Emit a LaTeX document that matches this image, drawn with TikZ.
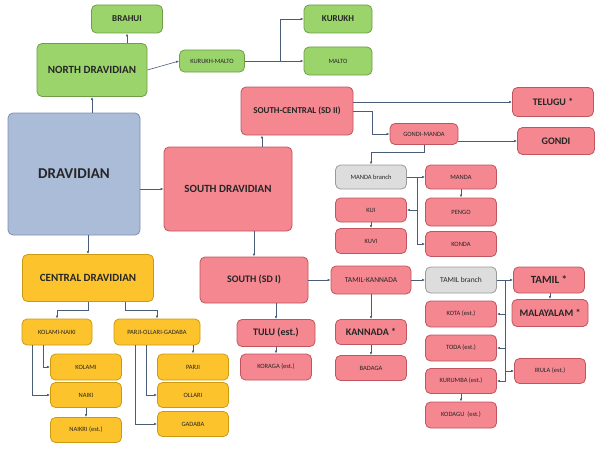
\documentclass[tikz,border=0pt]{standalone}
\usepackage{fontspec}
\setmainfont{Carlito}
\usetikzlibrary{arrows.meta}
\definecolor{gf}{HTML}{9CD46C}\definecolor{gd}{HTML}{6E9E48}
\definecolor{rf}{HTML}{F4878F}\definecolor{rd}{HTML}{C05560}
\definecolor{yf}{HTML}{FDC32C}\definecolor{yd}{HTML}{CC9A12}
\definecolor{sf}{HTML}{DDDDDD}\definecolor{sd}{HTML}{9A9A9A}
\definecolor{bf}{HTML}{AABCD8}\definecolor{bd}{HTML}{7D90B0}
\definecolor{ln}{HTML}{4A5D78}
\tikzset{
 bx/.style={draw, line width=0.8pt, rounded corners=5pt, inner sep=0pt, align=center, text=black!85},
 gr/.style={bx, fill=gf, draw=gd}, rd/.style={bx, fill=rf, draw=rd},
 yl/.style={bx, fill=yf, draw=yd}, sv/.style={bx, fill=sf, draw=sd},
 bl/.style={bx, fill=bf, draw=bd},
 sm/.style={font=\fontsize{6.5}{7}\selectfont},
 bg/.style={font=\fontsize{10}{11}\selectfont\bfseries},
 ar/.style={draw=ln, line width=0.6pt, -{Latex[length=3pt,width=2.5pt]}},
 ln/.style={draw=ln, line width=0.6pt}
}
\newcommand{\bxx}[7]{\node[#6, minimum width=#4pt, minimum height=#5pt] (#1) at (#2,#3) {#7};}
\begin{document}
\begin{tikzpicture}[x=1pt,y=-1pt]
\useasboundingbox (0,0) rectangle (602,452);
\bxx{brahui}{127}{19}{71}{28}{gr,font=\fontsize{9}{10}\selectfont\bfseries}{BRAHUI}
\bxx{north}{92}{70}{110}{53}{gr,font=\fontsize{11}{12}\selectfont\bfseries}{NORTH DRAVIDIAN}
\bxx{km}{212}{61}{65}{22}{gr,sm}{KURUKH-MALTO}
\bxx{kurukh}{338}{19}{68}{28}{gr,font=\fontsize{9}{10}\selectfont\bfseries}{KURUKH}
\bxx{malto}{338}{61}{68}{28}{gr,sm}{MALTO}
\bxx{drav}{74}{174}{132}{122}{bl,font=\fontsize{15}{16}\selectfont\bfseries}{DRAVIDIAN}
\bxx{sdrav}{228}{189}{128}{84}{rd,font=\fontsize{11}{12}\selectfont\bfseries}{SOUTH DRAVIDIAN}
\bxx{sc}{297}{111}{112}{48}{rd,font=\fontsize{9}{10}\selectfont\bfseries}{SOUTH-CENTRAL (SD II)}
\bxx{telugu}{553}{102}{81}{29}{rd,bg}{TELUGU *}
\bxx{gm}{424}{134}{68}{21}{rd,sm}{GONDI-MANDA}
\bxx{gondi}{556}{141}{77}{27}{rd,bg}{GONDI}
\bxx{mb}{371}{177}{71}{24}{sv,sm}{MANDA branch}
\bxx{manda}{461}{177}{71}{24}{rd,sm}{MANDA}
\bxx{kui}{371}{210}{71}{24}{rd,sm}{KUI}
\bxx{pengo}{461}{212}{71}{28}{rd,sm}{PENGO}
\bxx{kuvi}{371}{241}{71}{25}{rd,sm}{KUVI}
\bxx{konda}{461}{244}{71}{25}{rd,sm}{KONDA}
\bxx{tk}{371}{280}{80}{28}{rd,font=\fontsize{7.5}{8}\selectfont}{TAMIL-KANNADA}
\bxx{tb}{461}{280}{71}{26}{sv,font=\fontsize{7.5}{8}\selectfont}{TAMIL branch}
\bxx{tamil}{549}{280}{71}{26}{rd,font=\fontsize{11}{12}\selectfont\bfseries}{TAMIL *}
\bxx{mal}{550}{313}{76}{27}{rd,bg}{MALAYALAM *}
\bxx{kota}{461}{314}{71}{26}{rd,sm}{KOTA (est.)}
\bxx{toda}{461}{348}{71}{26}{rd,sm}{TODA (est.)}
\bxx{irula}{550}{371}{71}{25}{rd,sm}{IRULA (est.)}
\bxx{kurumba}{461}{381}{71}{25}{rd,sm}{KURUMBA (est.)}
\bxx{kodagu}{461}{415}{71}{26}{rd,sm}{KODAGU\ \ (est.)}
\bxx{kannada}{371}{332}{71}{25}{rd,bg}{KANNADA *}
\bxx{badaga}{371}{368}{71}{25}{rd,sm}{BADAGA}
\bxx{sd1}{254}{280}{108}{46}{rd,bg}{SOUTH (SD I)}
\bxx{tulu}{276}{333}{78}{27}{rd,bg}{TULU (est.)}
\bxx{koraga}{276}{367}{71}{26}{rd,sm}{KORAGA (est.)}
\bxx{central}{88}{278}{131}{47}{yl,font=\fontsize{11}{12}\selectfont\bfseries}{CENTRAL DRAVIDIAN}
\bxx{kn}{57}{332}{70}{26}{yl,sm}{KOLAMI-NAIKI}
\bxx{pog}{157}{332}{86}{26}{yl,sm}{PARJI-OLLARI-GADABA}
\bxx{kolami}{86}{367}{71}{26}{yl,sm}{KOLAMI}
\bxx{naiki}{86}{395}{71}{25}{yl,sm}{NAIKI}
\bxx{naikri}{86}{430}{71}{25}{yl,sm}{NAIKRI (est.)}
\bxx{parji}{193}{367}{71}{26}{yl,sm}{PARJI}
\bxx{ollari}{193}{395}{71}{25}{yl,sm}{OLLARI}
\bxx{gadaba}{193}{424}{71}{25}{yl,sm}{GADABA}
% connectors
\draw[ar] (north.north -| brahui) -- (brahui.south);
\draw[ar] (north.east) -- (km.west);
\draw[ar] (km.east) -- ++(35,0) |- (kurukh.west);
\draw[ar] (km.east) -- (malto.west);
\draw[ar] (drav.north -| north) -- (north.south);
\draw[ar] (drav.east |- sdrav) -- (sdrav.west);
\draw[ar] (drav.south -| central) -- (central.north);
\draw[ar] (sdrav.north -| 262,0) -- (sc.south -| 262,0);
\draw[ar] (sdrav.south -| sd1) -- (sd1.north);
\draw[ar] (sc.east |- telugu) -- (telugu.west);
\coordinate (c1) at (372,111);
\draw[ar] (sc.east) -- (c1) |- (gm.west);
\draw[ar] (gm.east |- gondi) -- (gondi.west);
\draw[ar] (gm.south) -- ++(0,7) -| (mb.north);
\draw[ar] (mb.east) -- (manda.west);
\coordinate (t1) at (417,177);
\draw[ar] (t1) |- (kui.east);
\draw[ar] (t1) |- (konda.west);
\draw[ar] (manda.south) -- (pengo.north);
\draw[ar] (kui.south) -- (kuvi.north);
\draw[ar] (sd1.east) -- (tk.west);
\draw[ar] (tk.east) -- (tb.west);
\draw[ar] (tk.south) -- (kannada.north);
\draw[ar] (kannada.south) -- (badaga.north);
\draw[ar] (tb.east) -- (tamil.west);
\coordinate (t2) at (505,280);
\draw[ar] (t2) |- (kota.east);
\draw[ar] (t2) |- (toda.east);
\draw[ar] (t2) |- (kurumba.east);
\draw[ar] (t2) |- (irula.west);
\draw[ar] (tamil.south -| 550,0) -- (mal.north);
\draw[ar] (kurumba.south) -- (kodagu.north);
\draw[ar] (sd1.south -| tulu) -- (tulu.north);
\draw[ar] (tulu.south) -- (koraga.north);
\draw[ar] (central.south) -- ++(0,8) -| (kn.north);
\draw[ar] (central.south -| 125,0) -- ++(0,8) -| (pog.north);
\draw[ar] (kn.south -| 43,0) |- (kolami.west);
\draw[ar] (kn.south -| 32,0) |- (naiki.west);
\draw[ar] (naiki.south) -- (naikri.north);
\draw[ar] (pog.south -| parji) -- (parji.north);
\draw[ar] (pog.south -| 146,0) |- (ollari.west);
\draw[ar] (pog.south -| 135,0) |- (gadaba.west);
\end{tikzpicture}
\end{document}
